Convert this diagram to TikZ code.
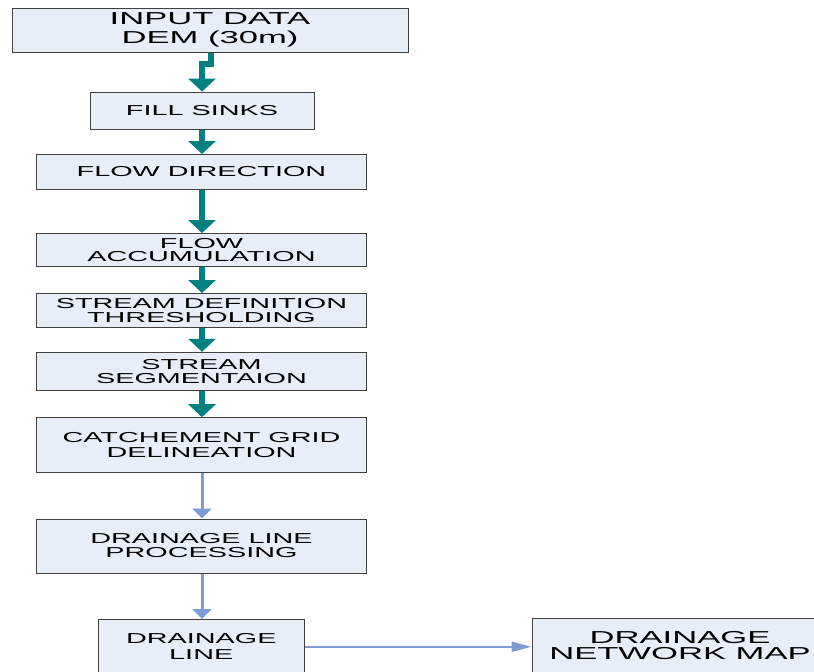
\documentclass[tikz,border=0pt]{standalone}
\usepackage{fontspec}
\setmainfont{Liberation Sans}
\newfontfamily\boxfont[FakeStretch=2]{Liberation Sans}
\usetikzlibrary{arrows.meta}
\definecolor{boxfill}{RGB}{232,238,248}
\definecolor{boxline}{RGB}{64,64,64}
\definecolor{tealc}{RGB}{0,128,128}
\definecolor{bluec}{RGB}{124,156,211}
\tikzset{
  flowbox/.style={draw=boxline, line width=1pt, fill=boxfill, inner sep=0pt,
    align=center, text=black},
  fs/.style={font={\boxfont\fontsize{14.4}{#1}\selectfont}},
  fl/.style={font={\boxfont\fontsize{17.3}{#1}\selectfont}},
  tealarrow/.style={draw=tealc, line width=6pt, line join=miter,
    -{Triangle[width=27pt,length=13pt]}},
  bluearrow/.style={draw=bluec, line width=3pt,
    -{Triangle[width=19pt,length=10pt]}},
  bluehoriz/.style={draw=bluec, line width=2pt,
    -{Triangle[width=10pt,length=20pt]}}
}
\begin{document}
\begin{tikzpicture}[x=1pt,y=-1pt]
\useasboundingbox (0,0) rectangle (814,672);
\node[flowbox, fl=19, minimum width=396pt, minimum height=44pt] (inp) at (210,30) {INPUT DATA\\DEM (30m)};
\node[flowbox, fs=14, minimum width=224pt, minimum height=37.5pt] (fill) at (202,110.8) {FILL SINKS};
\node[flowbox, fs=14, minimum width=330pt, minimum height=35pt] (fdir) at (201.5,172) {FLOW DIRECTION};
\node[flowbox, fs=13.4, minimum width=330pt, minimum height=32.5pt] (facc) at (201.5,249.75) {FLOW\\ACCUMULATION};
\node[flowbox, fs=13.6, minimum width=330pt, minimum height=33.8pt] (sdef) at (201.5,310.4) {STREAM DEFINITION\\THRESHOLDING};
\node[flowbox, fs=14.5, minimum width=330pt, minimum height=38.4pt] (sseg) at (201.5,371.5) {STREAM\\SEGMENTAION};
\node[flowbox, fs=15, minimum width=330pt, minimum height=54.6pt] (catch) at (201.5,445) {CATCHEMENT GRID\\DELINEATION};
\node[flowbox, fs=14, minimum width=330pt, minimum height=54pt] (dlp) at (201.5,546) {DRAINAGE LINE\\PROCESSING};
\node[flowbox, fs=16, minimum width=206.5pt, minimum height=54.5pt] (dl) at (201.25,646.75) {DRAINAGE\\LINE};
\node[flowbox, fl=16.2, minimum width=296pt, minimum height=54.5pt] (map) at (680,645.5) {DRAINAGE\\NETWORK MAP};

\draw[tealarrow] (inp.south) ++(0.5,0) -- ++(0,11.5) -| (fill.north);
\draw[tealarrow] (fill.south) -- (fill.south |- fdir.north);
\draw[tealarrow] (fill.south |- fdir.south) -- (fill.south |- facc.north);
\draw[tealarrow] (fill.south |- facc.south) -- (fill.south |- sdef.north);
\draw[tealarrow] (fill.south |- sdef.south) -- (fill.south |- sseg.north);
\draw[tealarrow] (fill.south |- sseg.south) -- (fill.south |- catch.north);
\draw[bluearrow] (fill.south |- catch.south) -- (fill.south |- dlp.north);
\draw[bluearrow] (fill.south |- dlp.south) -- (fill.south |- dl.north);
\draw[bluehoriz] (dl.east) -- (dl.east -| map.west);
\end{tikzpicture}
\end{document}
